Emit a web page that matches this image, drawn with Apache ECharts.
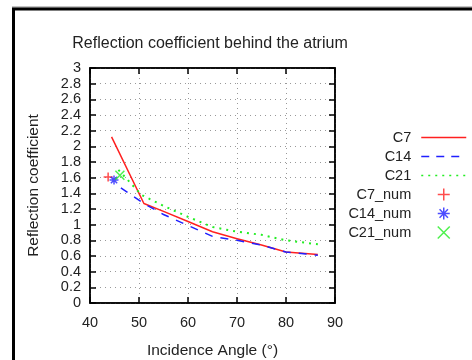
<!DOCTYPE html>
<html>
<head>
<meta charset="utf-8">
<script src="https://cdn.jsdelivr.net/npm/echarts@6/dist/echarts.min.js"></script>
<style>html,body{margin:0;padding:0;background:#fff}#c{width:472px;height:360px}</style>
</head>
<body>
<div id="c"></div>
<script>
// Data
var c7 = [[44.4,2.12],[51,1.27],[55,1.17],[60,1.04],[65,0.91],[70,0.82],[75,0.74],[80,0.65],[86.5,0.62]];
var c14 = [[46.3,1.47],[51,1.27],[55,1.13],[60,0.99],[65,0.85],[70,0.80],[75,0.74],[80,0.65],[86.5,0.61]];
var c21 = [[45.8,1.70],[50.5,1.38],[55,1.24],[60,1.10],[65,0.97],[70,0.91],[75,0.87],[80,0.80],[86.5,0.75]];
var c7num = [[43.7,1.61]];
var c14num = [[44.9,1.57]];
var c21num = [[46.1,1.63]];
var xTicks = {min:40, max:90, step:10};
var yTicks = {min:0, max:3, step:0.2};

var FONT = 'Liberation Sans, Arial, sans-serif';
var RED = '#ff2020', BLUE = '#2020ff', GREEN = '#22ee22';
var PLUS = 'path://M0,5L10,5M5,0L5,10';
var STAR = 'path://M0,5L10,5M5,0L5,10M1.5,1.5L8.5,8.5M8.5,1.5L1.5,8.5';
var CROSS = 'path://M0,0L10,10M10,0L0,10';
var HLINE = 'path://M0,0L0,0.01M0,6L45,6M45,12L45,11.99';

var chart = echarts.init(document.getElementById('c'), null, {renderer:'canvas'});
var tickStyle = {inside:true, length:6, lineStyle:{color:'#000', width:1.5}};
var gridLine = {show:true, lineStyle:{color:'#999', type:[1,4], width:1}};
function lineIcon(name, color, dash){
  return {name:name, icon:HLINE, itemStyle:{color:'transparent', borderColor:color, borderWidth:1.5, borderType:dash}};
}
chart.setOption({
  animation:false,
  backgroundColor:'#fff',
  textStyle:{fontFamily:FONT},
  title:{text:'Reflection coefficient behind the atrium', left:205, textAlign:'center', top:31,
         textStyle:{fontSize:16, fontWeight:'normal', color:'#222', fontFamily:FONT}},
  grid:{left:90, right:137, top:68, bottom:57, show:true, borderColor:'#000', borderWidth:1.5,
        backgroundColor:'transparent', containLabel:false, outerBoundsMode:'none'},
  legend:{
    orient:'vertical', right:0, top:125, align:'right', itemGap:4,
    itemWidth:45, itemHeight:12,
    textStyle:{fontSize:14.5, color:'#222', fontFamily:FONT, padding:[0,5,0,0]},
    data:[
      lineIcon('C7', RED, 'solid'),
      lineIcon('C14', BLUE, [8,7]),
      lineIcon('C21', GREEN, [2,5]),
      {name:'C7_num', icon:PLUS, itemStyle:{color:'transparent', borderColor:RED, borderWidth:1.5}},
      {name:'C14_num', icon:STAR, itemStyle:{color:'transparent', borderColor:BLUE, borderWidth:1.5}},
      {name:'C21_num', icon:CROSS, itemStyle:{color:'transparent', borderColor:GREEN, borderWidth:1.5}}
    ]
  },
  xAxis:[
    {type:'value', min:xTicks.min, max:xTicks.max, interval:xTicks.step, position:'bottom',
     name:'Incidence Angle (°)', nameLocation:'middle', nameGap:40,
     nameTextStyle:{fontSize:15.5, color:'#222', fontFamily:FONT},
     axisLine:{show:true, onZero:false, lineStyle:{color:'#000', width:1.5}},
     axisTick:tickStyle, splitLine:gridLine,
     axisLabel:{fontSize:14.5, color:'#222', margin:12, fontFamily:FONT}},
    {type:'value', min:xTicks.min, max:xTicks.max, interval:xTicks.step, position:'top',
     axisLine:{show:true, onZero:false, lineStyle:{color:'#000', width:1.5}},
     axisTick:tickStyle, splitLine:{show:false}, axisLabel:{show:false}}
  ],
  yAxis:[
    {type:'value', min:yTicks.min, max:yTicks.max, interval:yTicks.step, position:'left',
     name:'Reflection coefficient', nameLocation:'middle', nameGap:48, nameRotate:90,
     nameTextStyle:{fontSize:15.5, color:'#222', fontFamily:FONT},
     axisLine:{show:true, onZero:false, lineStyle:{color:'#000', width:1.5}},
     axisTick:tickStyle, splitLine:gridLine,
     axisLabel:{fontSize:14.5, color:'#222', margin:9, fontFamily:FONT, lineHeight:14,
       formatter:function(v){return String(Math.round(v*10)/10);}}},
    {type:'value', min:yTicks.min, max:yTicks.max, interval:yTicks.step, position:'right',
     axisLine:{show:true, onZero:false, lineStyle:{color:'#000', width:1.5}},
     axisTick:tickStyle, splitLine:{show:false}, axisLabel:{show:false}}
  ],
  series:[
    {name:'C7', type:'line', data:c7, symbol:'none', color:RED, lineStyle:{color:RED, width:1.5}},
    {name:'C14', type:'line', data:c14, symbol:'none', color:BLUE, lineStyle:{color:BLUE, width:1.5, type:[8,8]}},
    {name:'C21', type:'line', data:c21, symbol:'none', color:GREEN, lineStyle:{color:GREEN, width:2, type:[2,5]}},
    {name:'C7_num', type:'scatter', data:c7num, symbol:PLUS, symbolSize:9,
     itemStyle:{color:'transparent', borderColor:RED, borderWidth:1.5}},
    {name:'C14_num', type:'scatter', data:c14num, symbol:STAR, symbolSize:9,
     itemStyle:{color:'transparent', borderColor:BLUE, borderWidth:1.5}},
    {name:'C21_num', type:'scatter', data:c21num, symbol:CROSS, symbolSize:9,
     itemStyle:{color:'transparent', borderColor:GREEN, borderWidth:1.5}}
  ],
  graphic:[
    {type:'line', shape:{x1:12, y1:7, x2:472, y2:7}, style:{stroke:'#888', lineWidth:1}, silent:true},
    {type:'line', shape:{x1:12, y1:9, x2:472, y2:9}, style:{stroke:'#000', lineWidth:3}, silent:true},
    {type:'line', shape:{x1:13.5, y1:8, x2:13.5, y2:360}, style:{stroke:'#000', lineWidth:3}, silent:true}
  ]
});
</script>
</body>
</html>
